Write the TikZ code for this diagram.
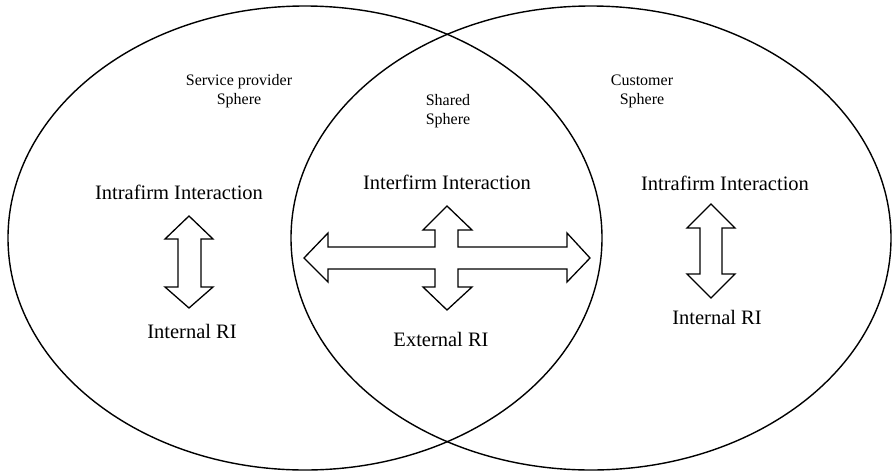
\documentclass[tikz,border=0pt]{standalone}
\usepackage{fontspec}
\setmainfont{Liberation Serif}
\begin{document}
\begin{tikzpicture}[x=1pt,y=-1pt,
  sphere/.style={draw=black,line width=1.4pt},
  blockarrow/.style={draw=black,line width=1.3pt,fill=white,line join=miter},
  bigtext/.style={font=\fontsize{20.5}{24}\selectfont,inner sep=0pt},
  smalltext/.style={font=\fontsize{16}{19}\selectfont,align=center,inner sep=0pt}]
\useasboundingbox (0,0) rectangle (893,474);

% the two overlapping spheres
\draw[sphere] (305,238) ellipse [x radius=297, y radius=232];
\draw[sphere] (591,238) ellipse [x radius=300, y radius=232];

% sphere titles
\node[smalltext] (sp) at (239,91) {Service provider\\Sphere};
\node[smalltext] (sh) at (448,111) {Shared\\Sphere};
\node[smalltext] (cu) at (642,91) {Customer\\Sphere};

% interaction labels
\node[bigtext] (intraL) at (179,192) {Intrafirm Interaction};
\node[bigtext] (inter)  at (447,182) {Interfirm Interaction};
\node[bigtext] (intraR) at (725,183) {Intrafirm Interaction};
\node[bigtext] (riL) at (192,331) {Internal RI};
\node[bigtext] (riS) at (441,339) {External RI};
\node[bigtext] (riR) at (717,317) {Internal RI};

% double block arrow, provider side
\draw[blockarrow] (189,216) -- (213,239) -- (201,239) -- (201,287) -- (213,287)
  -- (189,308) -- (165,287) -- (178,287) -- (178,239) -- (165,239) -- cycle;

% double block arrow, customer side
\draw[blockarrow] (711,204) -- (735,228) -- (722,228) -- (722,274) -- (735,274)
  -- (711,298) -- (687,274) -- (700,274) -- (700,228) -- (687,228) -- cycle;

% four-way block arrow in the shared sphere
\draw[blockarrow] (447,206) -- (472,230) -- (458,230) -- (458,247) -- (567,247)
  -- (567,233) -- (590,258) -- (567,282) -- (567,269) -- (458,269) -- (458,287)
  -- (472,287) -- (447,310) -- (423,287) -- (435,287) -- (435,269) -- (328,269)
  -- (328,282) -- (304,258) -- (328,233) -- (328,247) -- (435,247) -- (435,230)
  -- (423,230) -- cycle;
\end{tikzpicture}
\end{document}
